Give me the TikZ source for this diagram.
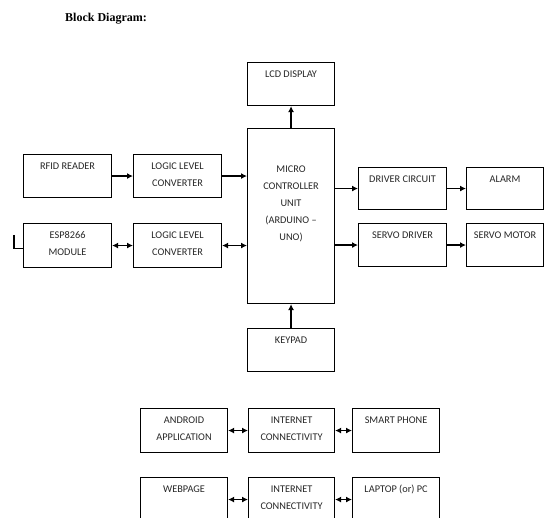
\documentclass[tikz,border=0pt]{standalone}
\usepackage{fontspec}
\setmainfont{Carlito}
\newfontfamily\titlefont{Liberation Serif}
\usetikzlibrary{arrows.meta}
\tikzstyle{block} = [rectangle, draw=black, line width=1.1pt, anchor=north west, inner sep=0pt, align=center, text=black!85, font=\fontsize{10.3}{17}\selectfont]
\tikzstyle{onebox} = [block, text height=15pt, text depth=28pt]
\tikzstyle{twobox} = [block, text height=32pt, text depth=11pt]
\tikzstyle{arrow} = [line width=1.6pt,->,>={Latex[length=6pt,width=6pt]}]
\tikzstyle{darrow} = [line width=1.6pt,<->,>={Latex[length=6pt,width=6pt]}]

\begin{document}
\begin{tikzpicture}[x=1pt,y=-1pt]
\clip (0,0) rectangle (544,518);
\useasboundingbox (0,0) rectangle (544,518);

\node (title) [anchor=base west, inner sep=0pt, font=\titlefont\bfseries\fontsize{12}{14}\selectfont] at (65,22) {Block Diagram:};

% controller column
\node (lcd) [onebox, minimum width=87pt] at (247,62) {LCD DISPLAY};
\node (mcu) [block, minimum width=87pt, text height=112pt, text depth=63pt] at (247,128) {MICRO\\CONTROLLER\\UNIT\\(ARDUINO --\\UNO)};
\node (keypad) [onebox, minimum width=87pt] at (247,328) {KEYPAD};

% inputs
\node (rfid) [onebox, minimum width=88pt] at (23,154) {RFID READER};
\node (llc1) [twobox, minimum width=88pt] at (133,154) {LOGIC LEVEL\\CONVERTER};
\node (esp) [twobox, minimum width=88pt, text depth=12pt] at (23,223) {ESP8266\\MODULE};
\node (llc2) [twobox, minimum width=88pt, text depth=12pt] at (133,223) {LOGIC LEVEL\\CONVERTER};
\coordinate (ant) at (14,235);

% outputs
\node (drv) [onebox, minimum width=88pt, text depth=27pt] at (358,167) {DRIVER CIRCUIT};
\node (alarm) [onebox, minimum width=77pt, text depth=27pt] at (466,167) {ALARM};
\node (sdrv) [onebox, minimum width=88pt] at (358,223) {SERVO DRIVER};
\node (smotor) [onebox, minimum width=77pt] at (466,223) {SERVO MOTOR};

% remote access
\node (android) [twobox, minimum width=87pt, text depth=12pt] at (140,408) {ANDROID\\APPLICATION};
\node (net1) [twobox, minimum width=86pt, text depth=12pt] at (248,408) {INTERNET\\CONNECTIVITY};
\node (phone) [onebox, minimum width=87pt, text depth=29pt] at (352,408) {SMART PHONE};
\node (web) [onebox, minimum width=87pt, text depth=29pt] at (140,477) {WEBPAGE};
\node (net2) [twobox, minimum width=86pt, text depth=12pt] at (248,477) {INTERNET\\CONNECTIVITY};
\node (laptop) [onebox, minimum width=87pt, text depth=29pt] at (352,477) {LAPTOP (or) PC};

%% flechas
\draw [arrow] (mcu) -- (lcd);
\draw [arrow] (keypad) -- (mcu);
\draw [arrow] (rfid) -- (llc1);
\draw [arrow] (llc1.east) -- (llc1.east -| mcu.west);
\draw [darrow] (esp) -- (llc2);
\draw [darrow] (llc2.east) -- (llc2.east -| mcu.west);
\draw [line width=1.1pt] (ant) |- ([yshift=-3pt]esp.west);
\draw [arrow] (mcu.east |- drv.west) -- (drv.west);
\draw [arrow] (drv) -- (alarm);
\draw [arrow] (mcu.east |- sdrv.west) -- (sdrv.west);
\draw [arrow] (sdrv) -- (smotor);
\draw [darrow] (android) -- (net1);
\draw [darrow] (net1) -- (phone);
\draw [darrow] (web) -- (net2);
\draw [darrow] (net2) -- (laptop);

\end{tikzpicture}
\end{document}
